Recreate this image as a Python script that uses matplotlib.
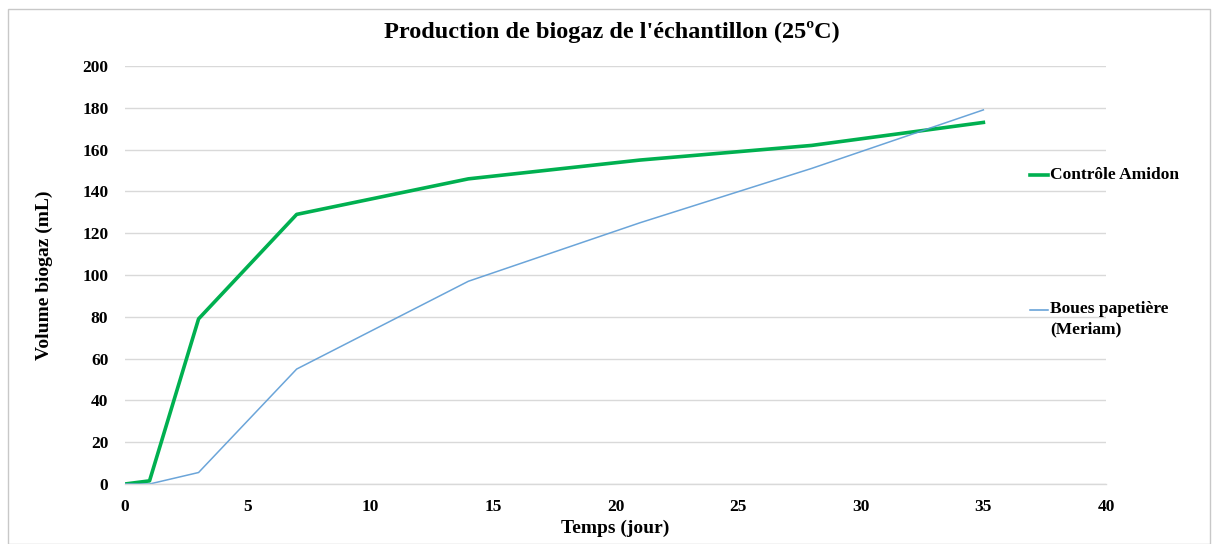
import matplotlib
matplotlib.use("Agg")
import matplotlib.pyplot as plt
from matplotlib.patches import Rectangle

plt.rcParams['font.family'] = ['Liberation Serif', 'DejaVu Serif']

days = [0, 1, 3, 7, 14, 21, 28, 35]
amidon = [0, 1.5, 79, 129, 146, 155, 162, 173]
boues = [0, 0, 5.5, 55, 97, 125, 151, 179]
series_names = ["Contrôle Amidon", "Boues papetière\n(Meriam)"]
xticks = [0, 5, 10, 15, 20, 25, 30, 35, 40]
yticks = list(range(0, 201, 20))

W, H = 1213, 544
fig = plt.figure(figsize=(W / 100, H / 100), dpi=100)
ax = fig.add_axes([125 / W, 1 - 484 / H, (1106 - 125) / W, (484 - 66) / H])

# chart frame
fig.patches.append(Rectangle((8 / W, 0), (1210 - 8) / W, 1 - 9 / H,
                             transform=fig.transFigure, fill=False,
                             edgecolor="#c8c8c8", linewidth=1.0))

ax.plot(days, amidon, color="#00b050", linewidth=2.6, solid_joinstyle="round")
ax.plot(days, boues, color="#5b9bd5", linewidth=1.1, alpha=0.9)

ax.set_xlim(0, 40)
ax.set_ylim(0, 200)
ax.set_xticks(xticks)
ax.set_yticks(yticks)
ax.tick_params(length=0, labelsize=12.5)
ax.tick_params(axis="x", pad=11)
ax.tick_params(axis="y", pad=12)
for lbl in ax.get_xticklabels() + ax.get_yticklabels():
    lbl.set_fontweight("bold")
ax.grid(axis="y", color="#d9d9d9", linewidth=1.0)
ax.set_axisbelow(True)
for s in ["top", "right", "left"]:
    ax.spines[s].set_visible(False)
ax.spines["bottom"].set_color("#d9d9d9")
ax.spines["bottom"].set_linewidth(1.0)

ax.set_xlabel("Temps (jour)", fontsize=14, fontweight="bold", labelpad=3)
ax.set_ylabel("Volume biogaz (mL)", fontsize=14, fontweight="bold", labelpad=21)
fig.text(612 / W, 1 - 32 / H, "Production de biogaz de l'échantillon (25ºC)",
         ha="center", va="center", fontsize=17.5, fontweight="bold")

# legend entries on the right
fig.lines.append(plt.Line2D([1030 / W, 1048 / W], [1 - 175 / H, 1 - 175 / H],
                            transform=fig.transFigure, color="#00b050", linewidth=2.6))
fig.text(1050 / W, 1 - 175 / H, series_names[0], ha="left", va="center",
         fontsize=12.5, fontweight="bold")
fig.lines.append(plt.Line2D([1030 / W, 1048 / W], [1 - 310 / H, 1 - 310 / H],
                            transform=fig.transFigure, color="#5b9bd5", linewidth=1.1))
fig.text(1050 / W, 1 - 301 / H, series_names[1], ha="left", va="top",
         fontsize=12.5, fontweight="bold", linespacing=1.4)

fig.savefig("out.png", dpi=100)
